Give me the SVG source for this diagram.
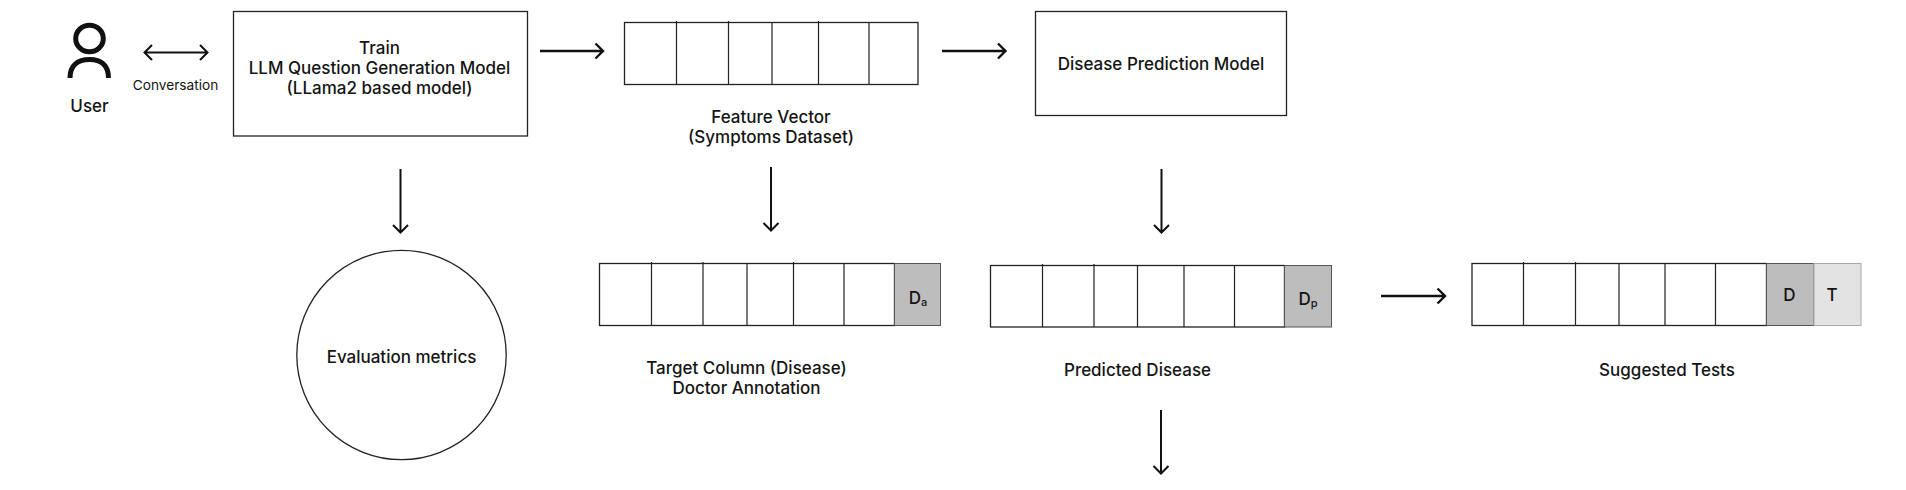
<svg xmlns="http://www.w3.org/2000/svg" width="1906" height="490" viewBox="0 0 1906 490">
<style>
text{font-family:Inter,"Liberation Sans",sans-serif;font-weight:500;font-size:17px;fill:#141414;text-anchor:middle}
.s{font-size:13.700px;font-weight:400}
.box{fill:#fff;stroke:#222;stroke-width:1.3}
.div{stroke:#222;stroke-width:1.2;fill:none}
.a{stroke:#111;stroke-width:2;fill:none}
.b{stroke:#111;stroke-width:2.400;fill:none}
.g1{fill:#bdbdbd;stroke:#555;stroke-width:1}
.g2{fill:#e3e3e3;stroke:#aaa;stroke-width:1}
</style>
<rect width="1906" height="490" fill="#fff"/>
<g id="connectors">
<path class="a" d="M144.500 52.500H207.500M152 45L144.500 52.500L152 60M200 45L207.500 52.500L200 60"/>
<path class="b" d="M540 51H603M595.500 43.500L603 51L595.500 58.500"/>
<path class="b" d="M942 51H1005.500M998 43.500L1005.500 51L998 58.500"/>
<path class="b" d="M1381 296H1445M1437.500 288.500L1445 296L1437.500 303.500"/>
<path class="a" d="M400.500 169V232.500M393 225L400.500 232.500L408 225"/>
<path class="a" d="M771 167V230.500M763.500 223L771 230.500L778.500 223"/>
<path class="a" d="M1161.500 169V232.500M1154 225L1161.500 232.500L1169 225"/>
<path class="a" d="M1161 410V473.500M1153.500 466L1161 473.500L1168.500 466"/>
</g>
<g id="user">
<ellipse cx="89.500" cy="38.500" rx="13.800" ry="13.300" fill="none" stroke="#111" stroke-width="5"/>
<path d="M70 78C70 65 78 59.500 89.500 59.500C101 59.500 108.500 65 108.500 78" fill="none" stroke="#111" stroke-width="5"/>
<text x="89.500" y="111.500">User</text>
</g>
<g id="conversation"><text class="s" x="175.500" y="89.500">Conversation</text></g>
<g id="train">
<rect class="box" x="233.500" y="11.500" width="294" height="124.500"/>
<text x="379.500" y="54">Train</text>
<text x="379.500" y="74">LLM Question Generation Model</text>
<text x="379.500" y="94">(LLama2 based model)</text>
</g>
<g id="feature-vector">
<rect class="box" x="624.500" y="22.500" width="293.500" height="62"/>
<path class="div" d="M676.500 21V84.500M728.500 21V84.500M772 22.500V84.500M818.500 21V84.500M869 22.500V84.500"/>
<text x="771" y="123">Feature Vector</text>
<text x="771" y="142.500">(Symptoms Dataset)</text>
</g>
<g id="disease-model">
<rect class="box" x="1035.500" y="11.500" width="251" height="104"/>
<text x="1161" y="69.500">Disease Prediction Model</text>
</g>
<g id="evaluation">
<circle class="box" cx="401.500" cy="355" r="104.700"/>
<text x="401.500" y="362.500">Evaluation metrics</text>
</g>
<g id="target">
<rect class="box" x="599.500" y="263.500" width="295" height="62"/>
<rect class="g1" x="894.500" y="263.500" width="46" height="62"/>
<path class="div" d="M651.500 262V325.500M703 262V325.500M747 263.500V325.500M793.500 262V325.500M844 263.500V325.500"/>
<text x="918" y="304">D<tspan font-size="11" dy="2">a</tspan></text>
<text x="746.500" y="374">Target Column (Disease)</text>
<text x="746.500" y="394">Doctor Annotation</text>
</g>
<g id="predicted">
<rect class="box" x="990.500" y="265.500" width="294" height="61.500"/>
<rect class="g1" x="1284.500" y="265.500" width="47" height="61.500"/>
<path class="div" d="M1042.500 264V327M1094 264V327M1137.500 265V327M1184 265V327M1234.500 265V327"/>
<text x="1308" y="305">D<tspan font-size="11" dy="2">p</tspan></text>
<text x="1137.500" y="376">Predicted Disease</text>
</g>
<g id="suggested">
<rect class="box" x="1472" y="263.500" width="294.500" height="62"/>
<rect class="g1" x="1766.500" y="263.500" width="47.500" height="62"/>
<rect class="g2" x="1814" y="263.500" width="47" height="62"/>
<path class="div" d="M1523.500 262V325.500M1575.500 262V325.500M1619 263.500V325.500M1665 263.500V325.500M1715.500 263.500V325.500"/>
<text x="1789.500" y="301">D</text>
<text x="1832" y="301">T</text>
<text x="1667" y="376">Suggested Tests</text>
</g>
</svg>
